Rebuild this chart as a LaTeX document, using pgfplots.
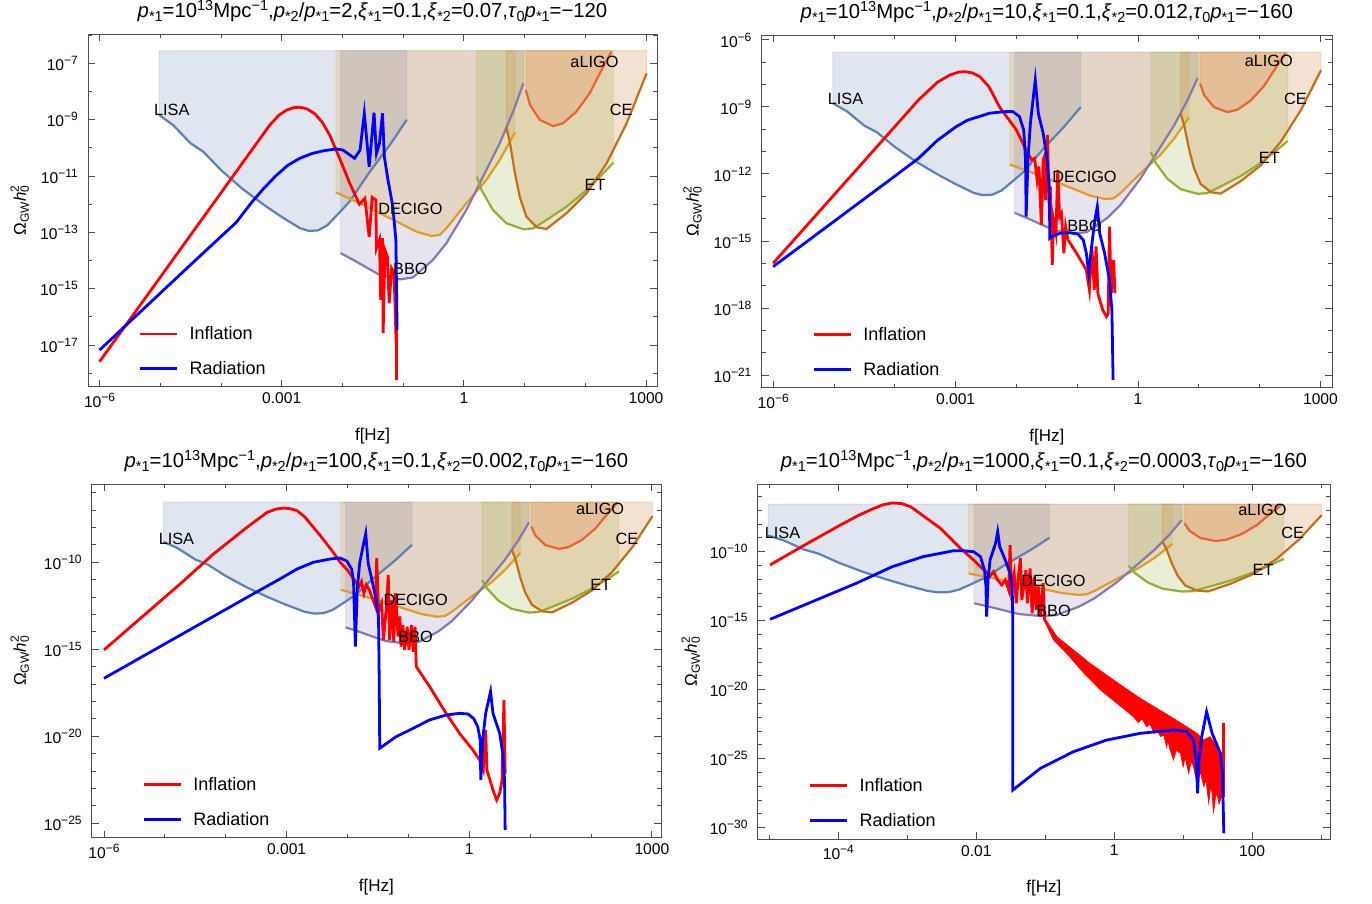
\documentclass[border=0pt]{standalone}
\usepackage{fontspec}
\setmainfont{Liberation Sans}
\usepackage{pgfplots}
\usepackage{pgfplotstable}
\pgfplotsset{compat=1.18}

% Mathematica default palette for the detectors
\definecolor{cLISA}{rgb}{0.368,0.507,0.710}
\definecolor{cDECIGO}{rgb}{0.881,0.611,0.142}
\definecolor{cET}{rgb}{0.560,0.692,0.195}
\definecolor{cLIGO}{rgb}{0.923,0.386,0.209}
\definecolor{cBBO}{rgb}{0.528,0.471,0.701}
\definecolor{cCE}{rgb}{0.772,0.432,0.102}

\newcommand{\fs}{\fontsize{15.6}{17}\selectfont}
\newcommand{\fl}{\fontsize{16.3}{18}\selectfont}
\newcommand{\fg}{\fontsize{18}{20}\selectfont}
\newcommand{\fa}{\fontsize{17}{19}\selectfont}
\newcommand{\ft}{\fontsize{20.3}{22}\selectfont}
\newcommand{\tsub}[1]{\raisebox{-4pt}{\fontsize{14.5}{14}\selectfont #1}}
\newcommand{\tsup}[1]{\raisebox{7pt}{\fontsize{14.5}{14}\selectfont #1}}
\newcommand{\ps}[1]{\textit{p}\tsub{*#1}}
\newcommand{\xs}[1]{\textit{ξ}\tsub{*#1}}
\newcommand{\tp}{\textit{τ}\tsub{0}\ps{1}}
\newcommand{\ee}[1]{10\raisebox{6pt}{\fontsize{12}{12}\selectfont −#1}}
\def\ytop{-6.55}

% all data: log10(f/Hz)  log10(Omega h^2)
\pgfplotstableread{
x y
-5.02 -8.83
-4.79 -9.19
-4.50 -9.84
-4.29 -10.14
-4.00 -10.79
-3.65 -11.45
-3.29 -12.03
-3.01 -12.44
-2.70 -12.85
-2.55 -12.95
-2.40 -12.93
-2.25 -12.75
-2.05 -12.30
-1.88 -11.90
-1.55 -10.85
-1.22 -9.90
-0.94 -9.00
}\lisa
\pgfplotstableread{
x y
-2.11 -11.58
-1.71 -11.97
-1.05 -12.68
-0.78 -12.98
-0.53 -13.13
-0.40 -13.09
-0.29 -12.86
0.04 -11.97
0.37 -11.14
0.59 -10.43
0.84 -9.46
}\decigo
\pgfplotstableread{
x y
-2.03 -13.74
-1.82 -13.98
-1.38 -14.52
-1.05 -14.67
-0.84 -14.60
-0.51 -13.98
-0.29 -13.39
0.04 -12.21
0.26 -11.26
0.59 -9.84
0.81 -8.72
0.98 -7.71
}\bbo
\pgfplotstableread{
x y
0.21 -11.02
0.29 -11.50
0.48 -12.21
0.70 -12.68
0.98 -12.89
1.14 -12.86
1.36 -12.56
1.69 -12.09
2.02 -11.50
2.24 -11.03
2.46 -10.53
}\et
\pgfplotstableread{
x y
0.70 -9.27
0.76 -9.84
0.84 -10.90
0.92 -11.74
1.03 -12.45
1.20 -12.82
1.36 -12.88
1.69 -12.32
2.02 -11.61
2.35 -10.55
2.68 -9.13
3.01 -7.35
}\ce
\pgfplotstableread{
x y
1.02 -7.95
1.09 -8.48
1.25 -9.01
1.47 -9.23
1.63 -9.13
1.85 -8.72
2.07 -8.07
2.24 -7.35
2.43 -6.59
}\aligo

% panel 1
\pgfplotstableread{
x y
-6.00 -17.59
-3.20 -9.20
-3.05 -8.85
-2.92 -8.66
-2.80 -8.57
-2.70 -8.56
-2.58 -8.62
-2.45 -8.80
-2.33 -9.10
-2.21 -9.55
-2.05 -10.35
-1.88 -11.26
-1.72 -12.00
-1.63 -11.79
-1.56 -13.16
-1.51 -11.76
-1.45 -11.85
-1.44 -13.57
-1.39 -13.27
-1.37 -15.40
-1.34 -13.21
-1.33 -16.58
-1.30 -13.63
-1.26 -13.87
-1.23 -15.52
-1.19 -14.28
-1.15 -14.45
-1.12 -16.58
-1.11 -16.47
-1.11 -18.24
}\infA
\pgfplotstableread{
x y
-6.00 -17.18
-4.50 -14.15
-3.75 -12.65
-3.50 -11.95
-3.30 -11.45
-3.10 -11.00
-2.90 -10.62
-2.70 -10.37
-2.50 -10.20
-2.30 -10.10
-2.10 -10.04
-1.99 -10.08
-1.88 -10.25
-1.80 -10.37
-1.71 -10.08
-1.64 -8.77
-1.56 -10.67
-1.48 -8.75
-1.44 -10.20
-1.39 -9.84
-1.34 -8.77
-1.31 -10.32
-1.25 -11.14
-1.17 -12.09
-1.12 -13.27
-1.11 -14.93
-1.10 -16.47
}\radA

% panel 2
\pgfplotstableread{
x y
-6.00 -16.00
-3.61 -8.69
-3.30 -7.90
-3.10 -7.58
-2.95 -7.44
-2.85 -7.42
-2.72 -7.48
-2.60 -7.65
-2.45 -8.10
-2.28 -8.99
-2.00 -10.03
-1.84 -10.93
-1.75 -11.37
-1.70 -11.30
-1.66 -12.27
-1.63 -11.67
-1.59 -14.28
-1.56 -11.37
-1.54 -11.22
-1.52 -13.17
-1.49 -10.25
-1.46 -13.46
-1.44 -12.57
-1.41 -16.07
-1.39 -14.06
-1.35 -14.66
-1.32 -11.82
-1.29 -13.91
-1.26 -13.76
-1.22 -15.55
-1.19 -14.36
-1.15 -14.96
-1.01 -15.55
-0.85 -16.30
-0.80 -17.19
-0.76 -15.25
-0.72 -17.19
-0.69 -15.25
-0.66 -17.34
-0.63 -17.64
-0.58 -18.09
-0.52 -18.39
-0.49 -18.24
-0.47 -14.36
-0.44 -17.34
-0.42 -16.60
-0.40 -15.85
-0.38 -17.34
}\infB
\pgfplotstableread{
x y
-6.00 -16.15
-4.00 -12.10
-3.61 -11.30
-3.30 -10.50
-3.00 -9.90
-2.81 -9.60
-2.44 -9.28
-2.19 -9.21
-2.06 -9.21
-1.95 -9.43
-1.88 -10.03
-1.85 -11.37
-1.84 -13.91
-1.81 -11.37
-1.77 -9.73
-1.69 -7.79
-1.64 -9.28
-1.56 -10.18
-1.50 -11.22
-1.46 -12.57
-1.45 -14.88
-1.40 -14.78
-1.29 -14.66
-1.12 -14.63
-0.99 -14.69
-0.90 -14.96
-0.85 -15.55
-0.81 -16.45
-0.77 -15.40
-0.71 -14.06
-0.67 -13.46
-0.63 -14.66
-0.55 -15.55
-0.47 -16.75
-0.43 -18.09
-0.41 -21.22
}\radB

% panel 3
\pgfplotstableread{
x y
-6.00 -15.04
-4.75 -11.25
-4.20 -9.52
-3.65 -7.99
-3.32 -7.13
-3.18 -6.95
-3.05 -6.88
-2.93 -6.93
-2.83 -7.03
-2.70 -7.40
-2.56 -7.99
-2.45 -8.45
-2.34 -8.95
-2.23 -9.45
-2.12 -10.00
-2.00 -10.45
-1.91 -10.90
-1.81 -11.40
-1.77 -11.11
-1.73 -11.78
-1.69 -11.30
-1.64 -11.59
-1.58 -12.17
-1.54 -12.55
-1.52 -9.77
-1.49 -12.84
-1.44 -12.36
-1.41 -14.47
-1.36 -12.55
-1.33 -10.73
-1.31 -14.47
-1.27 -12.17
-1.24 -14.56
-1.21 -11.78
-1.17 -14.27
-1.14 -13.12
-1.12 -14.85
-1.09 -13.60
-1.06 -15.04
-1.02 -13.70
-0.99 -15.04
-0.95 -13.60
-0.92 -15.14
-0.89 -13.70
-0.87 -16.00
-0.65 -17.15
-0.38 -18.68
-0.16 -19.83
0.06 -20.79
0.17 -21.36
0.23 -21.94
0.27 -19.64
0.29 -21.94
0.34 -22.51
0.39 -23.09
0.45 -23.66
0.50 -23.28
0.54 -22.51
0.57 -17.91
0.59 -22.13
}\infC
\pgfplotstableread{
x y
-6.00 -16.67
-3.55 -11.82
-3.11 -10.96
-2.83 -10.39
-2.56 -10.00
-2.28 -9.81
-2.12 -9.75
-2.01 -9.94
-1.93 -10.40
-1.90 -11.20
-1.87 -14.85
-1.84 -11.59
-1.80 -10.06
-1.74 -9.00
-1.70 -8.35
-1.66 -10.06
-1.61 -10.83
-1.54 -11.97
-1.49 -13.12
-1.48 -16.38
-1.47 -20.69
-1.20 -20.02
-0.92 -19.54
-0.65 -19.06
-0.38 -18.78
-0.16 -18.68
-0.02 -18.72
0.07 -18.97
0.14 -19.45
0.18 -20.21
0.19 -22.51
0.22 -20.21
0.27 -18.68
0.35 -17.43
0.39 -18.68
0.50 -19.83
0.55 -20.98
0.58 -22.51
0.59 -25.38
}\radC

% panel 4
\pgfplotstableread{
x y
-4.99 -10.96
-4.50 -9.55
-4.00 -8.15
-3.70 -7.35
-3.50 -6.90
-3.35 -6.60
-3.22 -6.47
-3.08 -6.52
-2.95 -6.75
-2.77 -7.40
-2.52 -8.31
-2.23 -9.76
-2.04 -10.60
-1.89 -11.33
-1.80 -11.76
-1.75 -11.45
-1.69 -12.05
-1.63 -12.41
-1.58 -12.05
-1.53 -12.78
-1.51 -9.52
-1.49 -12.66
-1.45 -11.57
-1.42 -13.74
-1.39 -11.81
-1.36 -10.48
-1.34 -13.50
-1.30 -12.17
-1.28 -11.33
-1.26 -13.74
-1.22 -11.21
-1.19 -14.47
-1.16 -11.81
-1.13 -14.23
-1.10 -12.53
-1.07 -14.71
-1.03 -12.29
-1.01 -14.95
}\infD
% noisy tail of the inflation curve: upper edge, then lower edge back
\pgfplotstableread{
x y
-1.02 -14.71
-0.83 -16.16
-0.59 -17.12
-0.35 -18.09
-0.11 -18.94
0.13 -19.78
0.38 -20.63
0.62 -21.35
0.86 -22.08
1.05 -22.68
1.20 -23.16
1.30 -23.65
1.39 -23.40
1.49 -24.13
1.56 -24.61
1.56 -27.75
1.52 -28.30
1.49 -27.51
1.47 -27.80
1.44 -28.96
1.42 -27.51
1.40 -27.00
1.37 -28.24
1.33 -26.50
1.30 -27.03
1.25 -26.00
1.20 -26.78
1.15 -25.58
1.12 -25.20
1.08 -26.06
1.03 -24.90
1.00 -25.60
0.96 -24.61
0.90 -24.40
0.86 -25.09
0.81 -24.37
0.78 -23.70
0.76 -24.20
0.72 -23.30
0.67 -23.40
0.62 -22.90
0.58 -23.20
0.52 -22.50
0.47 -22.68
0.40 -22.10
0.35 -22.40
0.28 -21.96
0.04 -20.99
-0.20 -20.02
-0.44 -18.81
-0.69 -17.37
-0.88 -16.40
-1.02 -14.95
}\bandD
\pgfplotstableread{
x y
1.58 -22.44
1.58 -27.75
}\spikeD
\pgfplotstableread{
x y
-4.99 -14.90
-3.74 -12.29
-3.22 -11.09
-2.77 -10.36
-2.52 -10.12
-2.33 -9.93
-2.20 -9.93
-2.04 -10.00
-1.94 -10.36
-1.88 -11.33
-1.86 -12.53
-1.85 -14.71
-1.83 -12.05
-1.80 -10.60
-1.72 -9.39
-1.69 -8.55
-1.66 -9.64
-1.58 -10.60
-1.51 -11.57
-1.48 -12.53
-1.47 -14.95
-1.47 -27.27
-1.07 -25.70
-0.59 -24.49
-0.11 -23.65
0.38 -23.16
0.86 -22.92
1.05 -23.04
1.15 -23.65
1.19 -25.09
1.21 -27.51
1.23 -25.09
1.27 -23.40
1.34 -21.59
1.42 -23.16
1.54 -24.61
1.57 -26.06
1.59 -30.41
}\radD

\newcommand{\detfill}[3]{%
  \addplot[fill=#1, fill opacity=0.2, draw=#1, draw opacity=0.18, line width=1pt, forget plot]
    table {#2} |- (axis cs:#3,\ytop) -- cycle;
}
\newcommand{\detectors}{%
  \detfill{cLISA}{\lisa}{-5.02}
  \detfill{cBBO}{\bbo}{-2.03}
  \detfill{cDECIGO}{\decigo}{-2.11}
  \detfill{cET}{\et}{0.21}
  \detfill{cCE}{\ce}{0.70}
  \detfill{cLIGO}{\aligo}{1.02}
  \addplot[cLISA, line width=2.2pt, forget plot] table {\lisa};
  \addplot[cDECIGO, line width=2.2pt, forget plot] table {\decigo};
  \addplot[cBBO, line width=2.2pt, forget plot] table {\bbo};
  \addplot[cET, line width=2.2pt, forget plot] table {\et};
  \addplot[cCE, line width=2.2pt, forget plot] table {\ce};
  \addplot[cLIGO, line width=2.2pt, forget plot] table {\aligo};
}
\newcommand{\detlabels}{%
  \node[font=\fl] at (axis cs:-4.81,-8.66) {LISA};
  \node[font=\fl] at (axis cs:2.15,-6.94) {aLIGO};
  \node[font=\fl] at (axis cs:2.59,-8.66) {CE};
  \node[font=\fl] at (axis cs:2.16,-11.30) {ET};
  \node[font=\fl] at (axis cs:-0.88,-12.15) {DECIGO};
  \node[font=\fl] at (axis cs:-0.88,-14.31) {BBO};
}

\pgfplotsset{
  panel/.style={
    scale only axis, anchor=south west,
    axis line style={black!70, line width=0.9pt},
    every tick/.style={black!70, line width=0.9pt},
    major tick length=7pt, minor tick length=4pt,
    tick align=inside,
    ticklabel style={font=\fs},
    xticklabel style={anchor=north, inner sep=0pt, yshift=-6pt},
    yticklabel style={anchor=east, inner sep=0pt, xshift=-10pt},
    xlabel={f[Hz]},
    ylabel={Ω\raisebox{-3pt}{\fontsize{12}{12}\selectfont GW}\textit{h}\makebox[0pt][l]{\raisebox{7pt}{\fontsize{12}{12}\selectfont 2}}\raisebox{-3pt}{\fontsize{12}{12}\selectfont 0}},
    xlabel style={font=\fa, at={(axis description cs:0.5,0)}, anchor=center, yshift=-49pt},
    ylabel style={font=\fa, anchor=center},
    title style={font=\ft, at={(axis description cs:0.5,1)}, anchor=base, inner sep=0pt, yshift=11pt},
    legend style={at={(0.089,0.171)}, anchor=north west, draw=none, fill=none,
      font=\fg, row sep=20pt, column sep=11pt, inner sep=0pt,
      nodes={inner sep=0pt}},
    legend cell align=left,
    legend image code/.code={\draw[##1] (0pt,0pt) -- (37pt,0pt);},
  },
  curve/.style={line width=2.8pt},
}

\begin{document}
\begin{tikzpicture}
\path[use as bounding box] (0pt,0pt) rectangle (1372pt,-903pt);

% ---- top left
\begin{axis}[panel, at={(88pt,-386.7pt)}, width=569pt, height=352.4pt,
  xmin=-6.19, xmax=3.18, ymin=-18.48, ymax=-5.97,
  xtick={-6,-3,0,3}, xticklabels={\ee{6},0.001,1,1000},
  minor xtick={-6,...,3},
  ytick={-17,-15,-13,-11,-9,-7},
  yticklabels={\ee{17},\ee{15},\ee{13},\ee{11},\ee{9},\ee{7}},
  minor ytick={-18,...,-6},
  ylabel style={at={(axis description cs:-0.120,0.5)}},
  title={\ps{1}=10\tsup{13}Mpc\tsup{−1},\ps{2}/\ps{1}=2,\xs{1}=0.1,\xs{2}=0.07,\tp=−120}]
\detectors
\addplot[curve, red] table {\infA};
\addlegendentry{Inflation}
\addplot[curve, blue] table {\radA};
\addlegendentry{Radiation}
\detlabels
\end{axis}

% ---- top right
\begin{axis}[panel, at={(761.6pt,-387.7pt)}, width=570.4pt, height=352.7pt,
  xmin=-6.19, xmax=3.19, ymin=-21.57, ymax=-5.78,
  xtick={-6,-3,0,3}, xticklabels={\ee{6},0.001,1,1000},
  minor xtick={-6,...,3},
  ytick={-21,-18,-15,-12,-9,-6},
  yticklabels={\ee{21},\ee{18},\ee{15},\ee{12},\ee{9},\ee{6}},
  minor ytick={-21,...,-6},
  ylabel style={at={(axis description cs:-0.121,0.5)}},
  title={\ps{1}=10\tsup{13}Mpc\tsup{−1},\ps{2}/\ps{1}=10,\xs{1}=0.1,\xs{2}=0.012,\tp=−160}]
\detectors
\addplot[curve, red] table {\infB};
\addlegendentry{Inflation}
\addplot[curve, blue] table {\radB};
\addlegendentry{Radiation}
\detlabels
\end{axis}

% ---- bottom left
\begin{axis}[panel, at={(91.8pt,-837.7pt)}, width=569.2pt, height=353.4pt,
  xmin=-6.2, xmax=3.15, ymin=-25.83, ymax=-5.52,
  xtick={-6,-3,0,3}, xticklabels={\ee{6},0.001,1,1000},
  minor xtick={-6,...,3},
  ytick={-25,-20,-15,-10},
  yticklabels={\ee{25},\ee{20},\ee{15},\ee{10}},
  minor ytick={-25,...,-6},
  ylabel style={at={(axis description cs:-0.1265,0.5)}},
  title={\ps{1}=10\tsup{13}Mpc\tsup{−1},\ps{2}/\ps{1}=100,\xs{1}=0.1,\xs{2}=0.002,\tp=−160}]
\detectors
\addplot[curve, red] table {\infC};
\addlegendentry{Inflation}
\addplot[curve, blue] table {\radC};
\addlegendentry{Radiation}
\detlabels
\end{axis}

% ---- bottom right
\begin{axis}[panel, at={(757.7pt,-839pt)}, width=572.3pt, height=354.7pt,
  xmin=-5.17, xmax=3.13, ymin=-30.82, ymax=-5.12,
  xtick={-4,-2,0,2}, xticklabels={\ee{4},0.01,1,100},
  minor xtick={-5,...,3},
  ytick={-30,-25,-20,-15,-10},
  yticklabels={\ee{30},\ee{25},\ee{20},\ee{15},\ee{10}},
  minor ytick={-30,...,-6},
  ylabel style={at={(axis description cs:-0.117,0.5)}},
  title={\ps{1}=10\tsup{13}Mpc\tsup{−1},\ps{2}/\ps{1}=1000,\xs{1}=0.1,\xs{2}=0.0003,\tp=−160}]
\detectors
\addplot[curve, red] table {\infD};
\addlegendentry{Inflation}
\addplot[red, fill=red, line width=0.6pt, forget plot] table {\bandD} -- cycle;
\addplot[curve, red, forget plot] table {\spikeD};
\addplot[curve, blue] table {\radD};
\addlegendentry{Radiation}
\detlabels
\end{axis}
\end{tikzpicture}
\end{document}
